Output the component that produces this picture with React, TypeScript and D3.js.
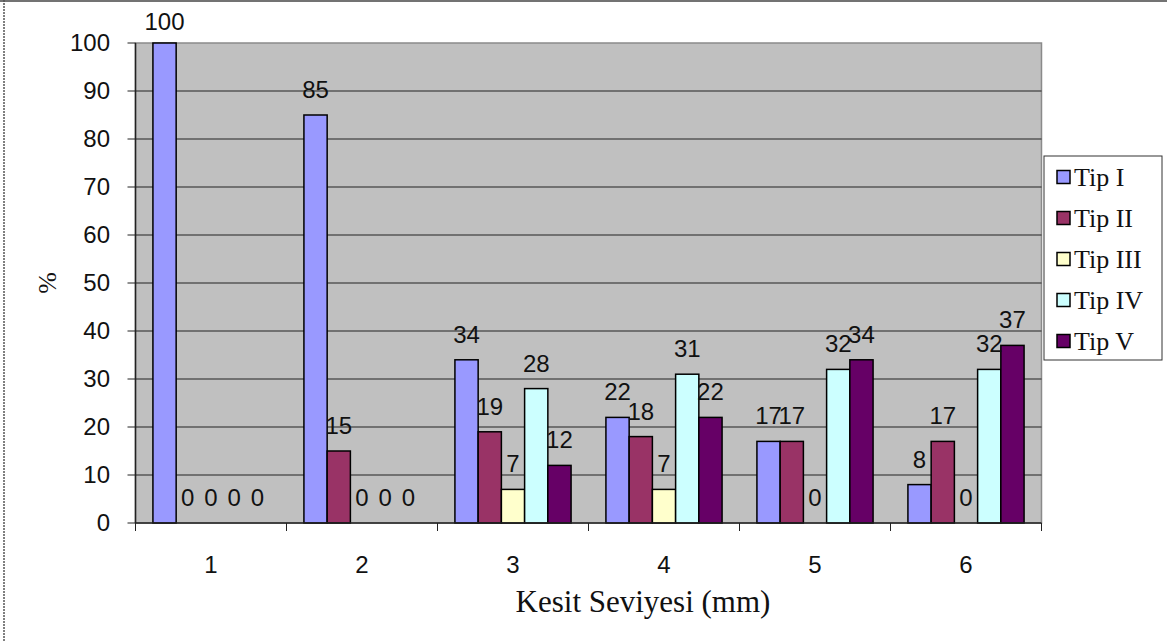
import React from "react";
import * as d3 from "d3";

const categories = ["1", "2", "3", "4", "5", "6"];
const seriesNames = ["Tip I", "Tip II", "Tip III", "Tip IV", "Tip V"];
const tipI = [100, 85, 34, 22, 17, 8];
const tipII = [0, 15, 19, 18, 17, 17];
const tipIII = [0, 0, 7, 7, 0, 0];
const tipIV = [0, 0, 28, 31, 32, 32];
const tipV = [0, 0, 12, 22, 34, 37];
const seriesColors = ["#9999FF", "#993366", "#FFFFCC", "#CCFFFF", "#660066"];
const yTicks = [0, 10, 20, 30, 40, 50, 60, 70, 80, 90, 100];
const xTitle = "Kesit Seviyesi (mm)";
const yTitle = "%";

const W = 1167;
const H = 642;
const plot = { left: 135.5, right: 1041.5, top: 43, bottom: 523 };
const sans = "'Liberation Sans', Arial, sans-serif";
const serif = "'Liberation Serif', 'Times New Roman', serif";

export default function App() {
  const series = [tipI, tipII, tipIII, tipIV, tipV];
  const x = d3.scaleBand<string>().domain(categories).range([plot.left, plot.right]).padding(0);
  const y = d3.scaleLinear().domain([0, 100]).range([plot.bottom, plot.top]);
  const band = x.bandwidth();
  const barW = band / 6.5;
  const groupOffset = (band - barW * series.length) / 2;
  const inner = d3
    .scaleBand<number>()
    .domain(d3.range(series.length))
    .range([groupOffset, groupOffset + barW * series.length])
    .padding(0);

  const legendX = 1044;
  const legendY = 156;
  const legendW = 118;
  const legendH = 204;
  const legendStep = 41;

  return (
    <svg
      width={W}
      height={H}
      style={{ position: "absolute", left: 0, top: 0, background: "#fff" }}
    >
      {/* outer chart frame */}
      <line x1={0} x2={W} y1={1} y2={1} stroke="#444" strokeWidth={1.5} />
      <line x1={4} x2={4} y1={0} y2={H} stroke="#555" strokeWidth={1.5} strokeDasharray="2,1" />

      {/* plot area */}
      <rect
        x={plot.left}
        y={plot.top}
        width={plot.right - plot.left}
        height={plot.bottom - plot.top}
        fill="#C0C0C0"
        stroke="#8a8a8a"
        strokeWidth={1.5}
      />
      {yTicks.map((t) => (
        <g key={"g" + t}>
          {t > 0 && t < 100 && (
            <line x1={plot.left} x2={plot.right} y1={y(t)} y2={y(t)} stroke="#222" strokeWidth={1} />
          )}
          <line x1={plot.left - 8} x2={plot.left} y1={y(t)} y2={y(t)} stroke="#222" strokeWidth={1} />
          <text
            x={110}
            y={y(t)}
            dy="0.35em"
            textAnchor="end"
            fontFamily={sans}
            fontSize={24}
            fill="#111"
          >
            {t}
          </text>
        </g>
      ))}

      {/* bars */}
      {series.map((vals, si) =>
        vals.map((v, ci) => {
          const bx = (x(categories[ci]) as number) + (inner(si) as number);
          return v > 0 ? (
            <rect
              key={`b${si}-${ci}`}
              x={bx}
              y={y(v)}
              width={barW}
              height={y(0) - y(v)}
              fill={seriesColors[si]}
              stroke="#000"
              strokeWidth={1.5}
            />
          ) : null;
        })
      )}

      {/* value labels */}
      {series.map((vals, si) =>
        vals.map((v, ci) => {
          const bx = (x(categories[ci]) as number) + (inner(si) as number) + barW / 2;
          return (
            <text
              key={`l${si}-${ci}`}
              x={bx}
              y={Math.max(y(v) - 17, 30)}
              textAnchor="middle"
              fontFamily={sans}
              fontSize={24}
              fill="#111"
            >
              {v}
            </text>
          );
        })
      )}

      {/* axes */}
      <line x1={plot.left} x2={plot.left} y1={plot.top} y2={plot.bottom} stroke="#222" strokeWidth={1.5} />
      <line x1={plot.left} x2={plot.right} y1={plot.bottom} y2={plot.bottom} stroke="#222" strokeWidth={1.5} />
      {categories.map((c, i) => (
        <line
          key={"xt" + c}
          x1={(x(c) as number)}
          x2={(x(c) as number)}
          y1={plot.bottom}
          y2={plot.bottom + 8}
          stroke="#222"
        />
      ))}
      <line x1={plot.right} x2={plot.right} y1={plot.bottom} y2={plot.bottom + 8} stroke="#222" />
      {categories.map((c) => (
        <text
          key={"xl" + c}
          x={(x(c) as number) + band / 2}
          y={573}
          textAnchor="middle"
          fontFamily={sans}
          fontSize={24}
          fill="#111"
        >
          {c}
        </text>
      ))}

      {/* axis titles */}
      <text x={643} y={612} textAnchor="middle" fontFamily={serif} fontSize={31} fill="#111">
        {xTitle}
      </text>
      <text
        transform={`translate(47,283) rotate(-90)`}
        textAnchor="middle"
        dy="0.35em"
        fontFamily={serif}
        fontSize={26}
        fill="#111"
      >
        {yTitle}
      </text>

      {/* legend */}
      <rect x={legendX} y={legendY} width={legendW} height={legendH} fill="#fff" stroke="#333" strokeWidth={1} />
      {seriesNames.map((name, i) => {
        const cy = legendY + 21 + i * legendStep;
        return (
          <g key={name}>
            <rect
              x={legendX + 13}
              y={cy - 6.5}
              width={13}
              height={13}
              fill={seriesColors[i]}
              stroke="#000"
              strokeWidth={1.5}
            />
            <text
              x={legendX + 30}
              y={cy}
              dy="0.35em"
              fontFamily={serif}
              fontSize={26}
              fill="#111"
            >
              {name}
            </text>
          </g>
        );
      })}
    </svg>
  );
}
